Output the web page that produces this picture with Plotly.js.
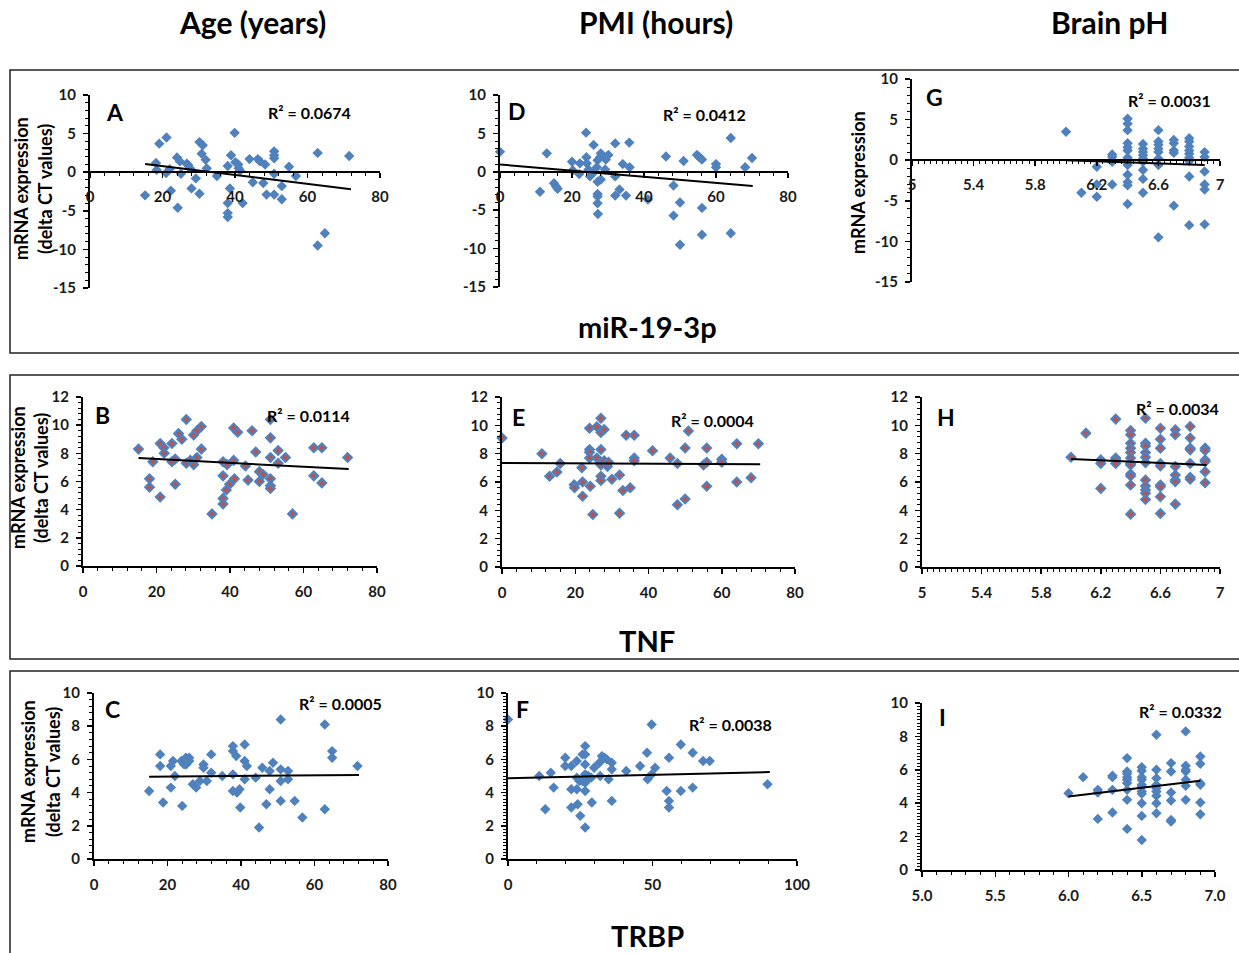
<!DOCTYPE html>
<html>
<head>
<meta charset="utf-8">
<script src="https://cdn.plot.ly/plotly-3.0.1.min.js"></script>
<style>html,body{margin:0;padding:0;background:#fff;}#chart{width:1239px;height:953px;}</style>
</head>
<body>
<div id="chart"></div>
<script>
// ---------- DATA ----------
// Column headers and row labels
const columnTitles = ["Age (years)", "PMI (hours)", "Brain pH"];
const rowTitles = ["miR-19-3p", "TNF", "TRBP"];
const panelLetters = ["A", "D", "G", "B", "E", "H", "C", "F", "I"];
const r2Texts = ["R² = 0.0674", "R² = 0.0412", "R² = 0.0031", "R² = 0.0114", "R² = 0.0004", "R² = 0.0034", "R² = 0.0005", "R² = 0.0038", "R² = 0.0332"];

// Panel A: miR-19-3p vs Age
const A_x = [15.2,18.2,19.1,18.4,21.1,21,22,22.3,24,24.2,24.8,25.1,26.7,27.1,27.6,28,29.2,30.2,31.1,30.8,31.9,32.2,30.2,35,38.9,39.9,38,38.6,38,38,38,40.1,40.9,41,41.4,42.1,44,44.9,46.3,46.9,48.3,47.8,48.7,50.8,50.8,50.8,50.8,50.8,52.9,52.9,54.9,56.8,62.8,62.8,64.8,71.5];
const A_y = [-3.0,1.2,3.7,0.3,4.5,-0.1,0.4,-2.4,1.9,-4.6,1.4,-0.2,1.1,0.9,0.5,-2.1,-0.8,3.9,3.5,2.4,1.6,0.5,-2.8,-0.5,2.2,5.1,0.8,-2.1,-4.0,-5.3,-5.8,1.3,1.0,0.5,0.2,-4.0,1.7,-1.3,1.7,1.4,1.0,-1.4,-2.9,2.7,2.2,1.8,-0.2,-2.9,-1.8,-3.5,0.7,-0.5,2.5,-9.5,-7.9,2.1];
const A_trend_x = [15.2, 72];
const A_trend_y = [1.05, -2.2];

// Panel D: miR-19-3p vs PMI
const D_x = [0,11.1,13,15,15.6,16,20,20.2,22,22.2,23.9,24,24.1,24.6,25,26,26.2,26.9,27.1,27.1,27.1,27.1,27.1,27.2,27.8,28,28,29.2,29.4,30.1,32,32,32,33.2,34.1,35,35.9,36,41.1,46.1,48.2,48.2,50,50,51,54.7,55.4,56.1,56.1,56.1,60,60,64.1,64.1,68.1,70];
const D_y = [2.6,-2.6,2.4,-1.5,-1.9,-2.2,1.3,0.2,-0.3,1.1,5.1,1.9,1.1,0.3,-0.6,3.5,0,0.6,1.5,-1.3,-2.9,-3.2,-4.1,-5.5,1.9,2.4,-1.0,0.3,1.6,2.2,3.7,-0.6,-3.1,-2.3,1.0,-3.1,3.8,0.6,-3.6,2.0,-1.8,-5.7,-4.0,-9.5,1.4,2.2,1.9,1.6,-4.7,-8.2,1.0,0.6,4.4,-8.0,0.6,1.8];
const D_trend_x = [0, 70.2];
const D_trend_y = [0.95, -1.86];

// Panel G: miR-19-3p vs Brain pH
const G_x = [6.0, 6.1, 6.2,6.2,6.2, 6.3,6.3,6.3,6.3, 6.4,6.4,6.4,6.4,6.4,6.4,6.4,6.4,6.4,6.4,6.4,6.4,6.4, 6.5,6.5,6.5,6.5,6.5,6.5,6.5,6.5,6.5, 6.6,6.6,6.6,6.6,6.6,6.6,6.6,6.6, 6.7,6.7,6.7,6.7,6.7, 6.8,6.8,6.8,6.8,6.8,6.8,6.8,6.8,6.8, 6.9,6.9,6.9,6.9,6.9,6.9];
const G_y = [3.5, -4.0, -0.8,-3.0,-4.5, 0.7,0.4,-0.2,-3.0, 5.1,4.5,3.7,2.1,1.6,1.2,0.3,0,-0.6,-1.8,-2.7,-3.1,-5.4, 2.0,1.4,1.0,0.6,0.2,-0.2,-1.2,-2.3,-4.0, 3.7,2.3,1.9,1.4,1.0,0.2,-0.6,-9.5, 2.5,2.1,1.2,0.9,-5.6, 2.7,2.3,1.7,1.2,0.8,0.3,-0.1,-2.0,-8.0, 1.0,0.4,-1.4,-3.0,-3.6,-7.9];
const G_trend_x = [6.0, 6.9];
const G_trend_y = [0.0, -0.6];

// Panel B: TNF vs Age
const B_x = [15.1,18.1,18.1,19,21,21,22,22.1,24.2,24.2,25.1,25.1,26,26.9,28.1,28.1,29.2,30.1,30.1,31,31,32.2,32.2,35.1,38.1,38.1,38.1,38.1,39,39.2,39.9,41,41,41.2,42.1,44.2,44.9,46,47,48,48,49,51,51,51,51,51,51,53.1,53.1,55.1,57,62.8,62.8,65,65,72];
const B_y = [8.3,6.2,5.6,7.4,8.7,4.9,8.4,8.0,8.7,7.4,7.6,5.8,9.4,9.0,10.4,7.3,7.5,9.3,7.2,9.6,7.7,9.9,8.3,3.7,7.4,6.4,4.8,4.4,5.4,7.2,5.8,9.8,7.5,6.2,9.5,7.1,6.1,9.6,8.1,6.7,6.0,6.5,10.4,9.1,7.7,6.2,5.7,5.5,8.2,7.3,7.7,3.7,8.4,6.4,8.4,5.9,7.7];
const B_trend_x = [15.1, 72.3];
const B_trend_y = [7.66, 6.88];

// Panel E: TNF vs PMI
const E_x = [0,10.9,13,15,15.9,19.7,19.8,21.8,22,22,23.9,23.9,23.9,23.9,24.1,24.8,25.9,25.9,27,27,27,27,27,27,27.9,27.9,28.6,28.8,29.1,30,32.1,32.1,33,33.9,35,36.1,36.1,36.1,41.1,45.9,47.9,47.9,50,50,50.9,55.9,55.9,55.9,55,60,60,64.1,64.1,68,70];
const E_y = [9.1,8.0,6.4,6.7,7.3,5.8,5.6,7.0,6.0,5.0,9.8,8.3,8.1,7.7,5.7,3.7,9.9,7.7,10.5,9.5,8.3,7.2,6.4,6.1,9.7,7.5,7.3,7.1,7.4,6.2,6.5,3.8,5.4,9.3,5.6,9.3,7.7,7.5,8.2,7.7,7.3,4.4,8.4,4.8,9.6,8.4,7.4,5.7,7.2,7.6,7.4,8.7,6.0,6.3,8.7];
const E_trend_x = [0, 70.5];
const E_trend_y = [7.35, 7.25];

// Panel H: TNF vs Brain pH
const H_x = [6.0, 6.1, 6.2,6.2,6.2, 6.3,6.3,6.3,6.3, 6.4,6.4,6.4,6.4,6.4,6.4,6.4,6.4,6.4,6.4,6.4,6.4, 6.5,6.5,6.5,6.5,6.5,6.5,6.5,6.5,6.5,6.5,6.5, 6.6,6.6,6.6,6.6,6.6,6.6,6.6,6.6,6.6, 6.7,6.7,6.7,6.7,6.7,6.7,6.7, 6.8,6.8,6.8,6.8,6.8,6.8,6.8, 6.9,6.9,6.9,6.9,6.9,6.9];
const H_y = [7.75, 9.45, 7.56,7.3,5.55, 10.44,7.7,7.56,7.3, 9.64,9.33,8.74,8.39,8.08,7.7,7.3,7.2,6.57,6.43,5.79,3.73, 10.5,8.74,8.55,8.08,7.75,7.37,6.14,5.72,5.43,5.2,4.77, 9.8,9.02,8.39,7.3,7.13,5.79,5.67,4.96,3.78, 9.69,9.33,7.09,6.5,6.14,6.02,4.44, 9.92,9.1,8.39,8.27,7.3,6.33,6.19, 8.39,8.22,7.56,7.44,6.73,5.95];
const H_trend_x = [6.0, 6.91];
const H_trend_y = [7.63, 7.2];

// Panel C: TRBP vs Age
const C_x = [15,18,18,18.8,20.9,20.9,21.5,22,23.8,24,24.5,25,25.1,25.9,25.9,26.9,27.8,28.8,29.8,29.8,30.7,31.9,31.9,34.9,37.8,37.8,37.8,37.8,38.7,38.9,39.6,39.8,41,41,41,41.6,44,44.9,45.8,46.9,47.8,47.8,48.7,50.8,50.8,50.8,50.8,52.8,52.8,54.6,56.7,62.8,62.8,64.8,64.8,71.7];
const C_y = [4.1,6.3,5.6,3.4,5.6,4.3,5.9,5.0,5.9,3.2,5.7,6.1,5.7,5.9,6.1,4.5,4.3,4.7,5.7,5.5,4.7,6.3,5.2,5.0,6.8,6.5,5.1,4.1,6.2,4.0,4.2,3.1,6.9,5.9,4.8,5.6,4.9,1.9,5.5,3.3,5.3,4.2,5.8,8.4,5.4,4.7,3.5,5.3,4.8,3.5,2.5,8.1,3.0,6.5,6.1,5.6];
const C_trend_x = [15, 72.1];
const C_trend_y = [4.96, 5.06];

// Panel F: TRBP vs PMI
const F_x = [0,10.8,12.9,14.8,15.8,19.8,19.8,21.9,21.9,21.9,23.8,23.8,23.8,24.1,24.7,25,25.8,25.8,26.7,26.7,26.7,26.7,26.7,26.7,26.7,27.6,27.8,28.8,29,29.8,31.6,31.9,32.5,33.4,34.2,34.8,35.9,35.9,35.9,40.9,45.7,48.1,48.3,49.7,49.7,50.9,54.9,55.7,55.7,55.7,59.8,59.8,63.9,63.9,67.5,69.8,89.8];
const F_y = [8.4,5.0,3.0,5.2,4.3,6.1,5.6,5.6,4.2,3.1,5.9,4.9,4.2,3.3,4.7,2.6,6.3,4.7,6.8,6.3,5.7,5.1,4.6,4.1,1.9,4.8,5.0,4.9,3.4,5.5,5.8,5.0,6.2,6.1,6.0,4.8,5.8,5.4,3.5,5.3,5.6,6.4,4.8,8.1,5.1,5.5,4.1,3.5,3.1,6.1,6.9,4.1,6.4,4.3,5.9,5.9,4.5];
const F_trend_x = [0, 90.6];
const F_trend_y = [4.86, 5.24];

// Panel I: TRBP vs Brain pH
const I_x = [6.0, 6.1, 6.2,6.2,6.2, 6.3,6.3,6.3,6.3, 6.4,6.4,6.4,6.4,6.4,6.4,6.4,6.4,6.4, 6.5,6.5,6.5,6.5,6.5,6.5,6.5,6.5,6.5,6.5,6.5, 6.6,6.6,6.6,6.6,6.6,6.6,6.6,6.6,6.6, 6.7,6.7,6.7,6.7,6.7,6.7, 6.8,6.8,6.8,6.8,6.8,6.8,6.8, 6.9,6.9,6.9,6.9,6.9,6.9];
const I_y = [4.6, 5.56, 4.8,4.64,3.06, 5.64,5.56,4.8,3.44, 6.7,5.9,5.76,5.56,5.4,5.2,4.8,4.2,2.46, 6.16,5.94,5.56,5.4,5.1,5.0,4.7,4.56,4.0,3.24,1.8, 8.1,6.0,5.5,5.1,4.9,4.7,4.44,4.0,3.4, 6.4,5.9,4.64,4.16,3.0,2.9, 8.3,6.24,6.0,5.9,5.4,5.04,4.2, 6.8,6.36,5.2,5.1,4.04,3.34];
const I_trend_x = [6.0, 6.9];
const I_trend_y = [4.4, 5.34];

// Tick labels for the top-row y axes (ASCII hyphen, as in the original)
const topRowYTicks = [-15, -10, -5, 0, 5, 10];
const topRowYTickText = ["-15", "-10", "-5", "0", "5", "10"];

// ---------- LAYOUT / STYLE ----------
const W = 1239, H = 953;
const FONT = 'Lato, Carlito, "Open Sans", sans-serif';
const BLUE = '#4F81BD', RED = '#C0504D';

const panels = [
  {xs:A_x, ys:A_y, tx:A_trend_x, ty:A_trend_y, px:[90,380], py:[95,288], xr:[0,80], yr:[-15,10], xd:20, xm:4, yd:5, ym:1, cross:true, red:false, letter:[115,112], r2:[309,112]},
  {xs:D_x, ys:D_y, tx:D_trend_x, ty:D_trend_y, px:[500,788], py:[95,287], xr:[0,80], yr:[-15,10], xd:20, xm:4, yd:5, ym:1, cross:true, red:false, letter:[517,111], r2:[704,114]},
  {xs:G_x, ys:G_y, tx:G_trend_x, ty:G_trend_y, px:[912,1220], py:[79,282], xr:[5,7], yr:[-15,10], xd:0.4, xm:0.04, yd:5, ym:1, cross:true, red:false, letter:[934,97], r2:[1169,101]},
  {xs:B_x, ys:B_y, tx:B_trend_x, ty:B_trend_y, px:[83,377], py:[397,566], xr:[0,80], yr:[0,12], xd:20, xm:4, yd:2, ym:0.4, cross:false, red:true, letter:[102,415], r2:[308,415]},
  {xs:E_x, ys:E_y, tx:E_trend_x, ty:E_trend_y, px:[502,795], py:[397,567], xr:[0,80], yr:[0,12], xd:20, xm:4, yd:2, ym:0.4, cross:false, red:true, letter:[518,417], r2:[712,420]},
  {xs:H_x, ys:H_y, tx:H_trend_x, ty:H_trend_y, px:[922,1220], py:[397,567], xr:[5,7], yr:[0,12], xd:0.4, xm:0.04, yd:2, ym:0.4, cross:false, red:true, letter:[946,417], r2:[1177,408]},
  {xs:C_x, ys:C_y, tx:C_trend_x, ty:C_trend_y, px:[94,388], py:[693,859], xr:[0,80], yr:[0,10], xd:20, xm:4, yd:2, ym:0.4, cross:false, red:false, letter:[112,709], r2:[340,703]},
  {xs:F_x, ys:F_y, tx:F_trend_x, ty:F_trend_y, px:[508,797], py:[693,859], xr:[0,100], yr:[0,10], xd:50, xm:10, yd:2, ym:0.2, cross:false, red:false, letter:[522,709], r2:[730,724]},
  {xs:I_x, ys:I_y, tx:I_trend_x, ty:I_trend_y, px:[922,1215], py:[703,870], xr:[5,7], yr:[0,10], xd:0.5, xm:0.1, yd:2, ym:0.2, cross:false, red:false, letter:[942,717], r2:[1180,711], xfmt:'.1f'}
];

const tickFont = {family:FONT, size:15, color:'#1a1a1a', weight:700};
const traces = [];
const layout = {
  width:W, height:H, margin:{l:0,r:0,t:0,b:0},
  paper_bgcolor:'#ffffff', plot_bgcolor:'rgba(0,0,0,0)', showlegend:false,
  annotations:[], shapes:[]
};

function ann(text, xp, yp, size, angle){
  return {text:text, x:xp/W, y:1-yp/H, xref:'paper', yref:'paper', xanchor:'center', yanchor:'middle',
          showarrow:false, textangle:angle||0, font:{family:FONT, size:size, color:'#000', weight:700}};
}

panels.forEach((p, i) => {
  const s = i === 0 ? '' : String(i+1);
  const xa = 'xaxis' + s, ya = 'yaxis' + s;
  const zeroPix = p.py[0] + (p.yr[1]-0)/(p.yr[1]-p.yr[0])*(p.py[1]-p.py[0]);
  const common = {showline:true, linecolor:'#000', linewidth:2, ticks:'outside', ticklen:5, tickwidth:1.5, tickcolor:'#000',
                  showgrid:false, zeroline:false, tickfont:tickFont, fixedrange:true};
  const xdef = Object.assign({}, common, {
    domain:[p.px[0]/W, p.px[1]/W], range:p.xr, tickmode:'linear', tick0:p.xr[0], dtick:p.xd,
    minor:{tickmode:'linear', tick0:p.xr[0], dtick:p.xm, ticks:'outside', ticklen:3, tickwidth:1, tickcolor:'#000'},
    ticklabelstandoff:6
  });
  if (p.xfmt) xdef.tickformat = p.xfmt;
  if (p.cross){ xdef.anchor = 'free'; xdef.position = 1 - zeroPix/H; }
  else { xdef.anchor = 'y' + s; }
  const ydef = Object.assign({}, common, {
    domain:[1 - p.py[1]/H, 1 - p.py[0]/H], range:p.yr, anchor:'x' + s,
    minor:{tickmode:'linear', tick0:p.yr[0], dtick:p.ym, ticks:'outside', ticklen:3, tickwidth:1, tickcolor:'#000'},
    ticklabelstandoff:4
  });
  if (p.cross){ ydef.tickmode = 'array'; ydef.tickvals = topRowYTicks; ydef.ticktext = topRowYTickText; }
  else { ydef.tickmode = 'linear'; ydef.tick0 = p.yr[0]; ydef.dtick = p.yd; }
  layout[xa] = xdef; layout[ya] = ydef;

  const marker = p.red
    ? {symbol:'diamond', size:6.5, color:RED, line:{color:BLUE, width:2.2}}
    : {symbol:'diamond', size:8, color:BLUE, line:{width:0}};
  traces.push({type:'scatter', mode:'markers', x:p.xs, y:p.ys, xaxis:'x'+s, yaxis:'y'+s, marker:marker, cliponaxis:false, hoverinfo:'skip'});
  traces.push({type:'scatter', mode:'lines', x:p.tx, y:p.ty, xaxis:'x'+s, yaxis:'y'+s, line:{color:'#000', width:2}, cliponaxis:false, hoverinfo:'skip'});

  layout.annotations.push(ann(panelLetters[i], p.letter[0], p.letter[1], 23));
  layout.annotations.push(ann(r2Texts[i], p.r2[0], p.r2[1], 16));
});

// column headers & row labels
[[252,22],[656,22],[1109,22]].forEach((pos,i)=>layout.annotations.push(ann(columnTitles[i], pos[0], pos[1], 30)));
[[647,327],[647,640],[647,935]].forEach((pos,i)=>layout.annotations.push(ann(rowTitles[i], pos[0], pos[1], 29)));

// y-axis titles
const yt1 = 'mRNA expression', yt2 = '(delta CT values)';
layout.annotations.push(ann(yt1, 21, 189, 18, -90));
layout.annotations.push(ann(yt2, 45, 189, 18, -90));
layout.annotations.push(ann(yt1, 18, 478, 18, -90));
layout.annotations.push(ann(yt2, 41, 478, 18, -90));
layout.annotations.push(ann(yt1, 28, 772, 18, -90));
layout.annotations.push(ann(yt2, 53, 772, 18, -90));
layout.annotations.push(ann(yt1, 858, 183, 18, -90));

// row boxes
[[70,353],[375,659],[671,1000]].forEach(r=>{
  layout.shapes.push({type:'rect', xref:'paper', yref:'paper', x0:10/W, x1:1260/W, y0:1-r[1]/H, y1:1-r[0]/H,
                      line:{color:'#222', width:1.5}, fillcolor:'rgba(0,0,0,0)'});
});

Plotly.newPlot('chart', traces, layout, {staticPlot:true, displayModeBar:false});
</script>
</body>
</html>
